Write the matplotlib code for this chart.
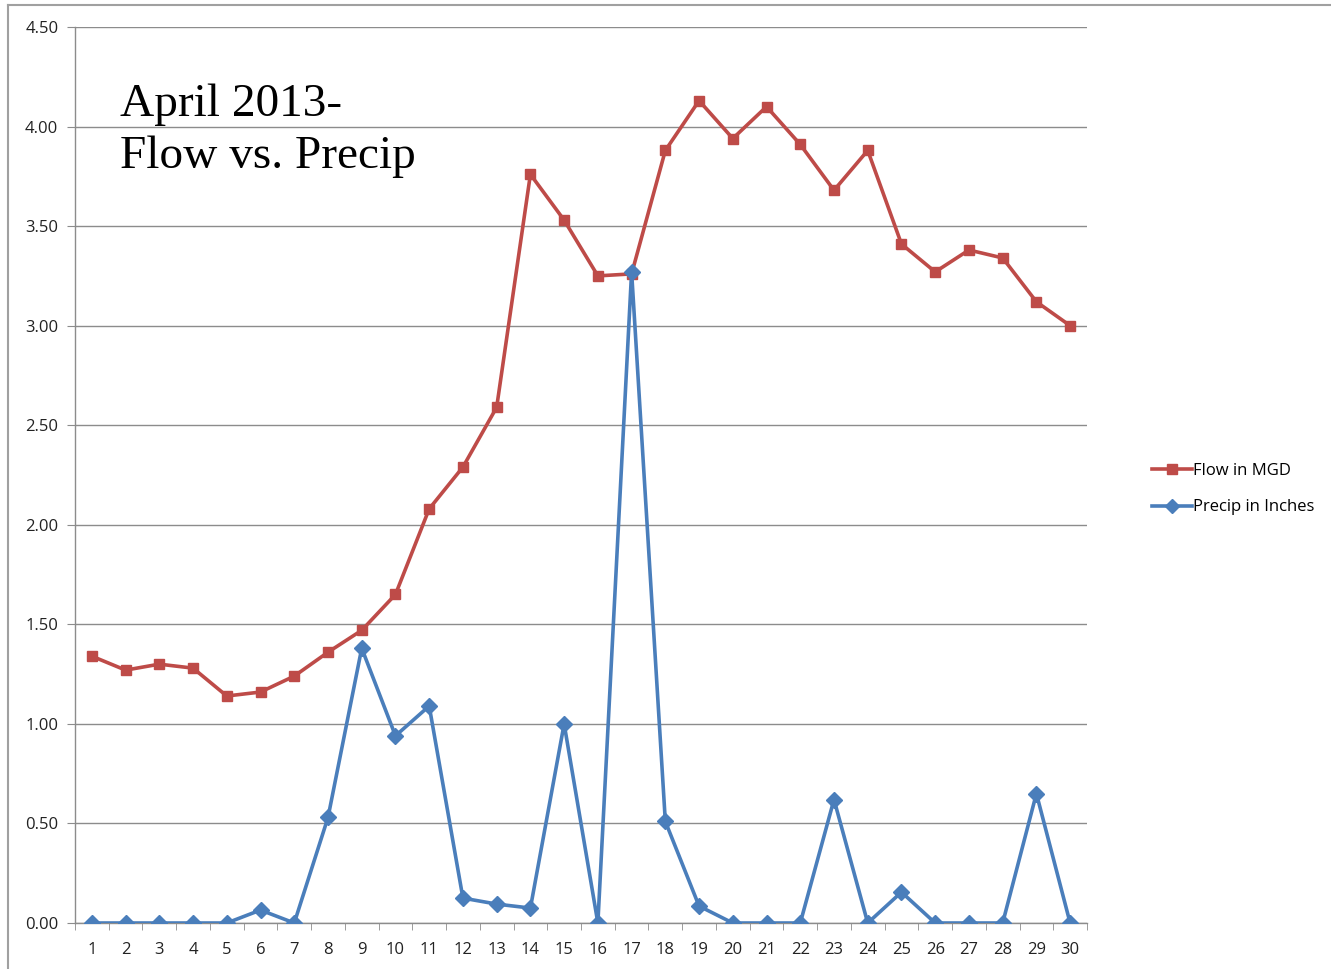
import matplotlib
matplotlib.use("Agg")
import matplotlib.pyplot as plt
from matplotlib.lines import Line2D

days = list(range(1, 31))
flow_mgd = [1.34, 1.27, 1.30, 1.28, 1.14, 1.16, 1.24, 1.36, 1.47, 1.65,
            2.08, 2.29, 2.59, 3.76, 3.53, 3.25, 3.26, 3.88, 4.13, 3.94,
            4.10, 3.91, 3.68, 3.88, 3.41, 3.27, 3.38, 3.34, 3.12, 3.00]
precip_in = [0.00, 0.00, 0.00, 0.00, 0.00, 0.065, 0.00, 0.53, 1.38, 0.94,
             1.09, 0.125, 0.095, 0.075, 1.00, 0.00, 3.27, 0.51, 0.085, 0.00,
             0.00, 0.00, 0.62, 0.00, 0.155, 0.00, 0.00, 0.00, 0.65, 0.00]
yticks = [0.0, 0.5, 1.0, 1.5, 2.0, 2.5, 3.0, 3.5, 4.0, 4.5]

RED = "#BE4B48"
BLUE = "#4A7EBB"
GRID = "#8C8C8C"

fig = plt.figure(figsize=(13.31, 9.69), dpi=100)
fig.patch.set_facecolor("white")

# outer border lines (top and left)
fig.add_artist(Line2D([8/1331, 1], [1-5/969, 1-5/969], color="#A0A0A0", lw=1.5, transform=fig.transFigure))
fig.add_artist(Line2D([8/1331, 8/1331], [0, 1-5/969], color="#A0A0A0", lw=1.5, transform=fig.transFigure))

ax = fig.add_axes([75/1331, 46/969, (1087-75)/1331, (923-27)/969])

lf, = ax.plot(days, flow_mgd, color=RED, lw=2.6, marker="s", ms=7.5, zorder=3)
lp, = ax.plot(days, precip_in, color=BLUE, lw=2.6, marker="D", ms=8, zorder=4)

ax.set_xlim(0.5, 30.5)
ax.set_ylim(0, 4.5)
ax.set_yticks(yticks)
ax.set_yticklabels([f"{v:.2f}" for v in yticks])
ax.set_xticks(days)
ax.set_xticklabels([str(d) for d in days])
ax.set_xticks([d + 0.5 for d in [0] + days], minor=True)
ax.tick_params(axis="x", which="major", length=0, pad=14)
ax.tick_params(axis="x", which="minor", length=5, color=GRID, direction="out")
ax.tick_params(axis="y", length=6, color=GRID, direction="out", pad=6)
for lab in ax.get_xticklabels() + ax.get_yticklabels():
    lab.set_fontfamily("Open Sans")
    lab.set_fontsize(12)
    lab.set_color("#222222")

ax.grid(axis="y", color=GRID, lw=1)
ax.set_axisbelow(True)
for s in ["top", "right"]:
    ax.spines[s].set_visible(False)
for s in ["left", "bottom"]:
    ax.spines[s].set_color(GRID)
    ax.spines[s].set_linewidth(1)

ax.text(0.044, 0.937, "April 2013-\nFlow vs. Precip", transform=ax.transAxes,
        fontfamily="Liberation Serif", fontsize=34, va="top", ha="left",
        linespacing=1.28, color="black")

fig.legend([lf, lp], ["Flow in MGD", "Precip in Inches"],
           loc="center left", bbox_to_anchor=(1137/1331, 1-489/969),
           frameon=False, prop={"family": "Open Sans", "size": 12},
           handlelength=2.4, handletextpad=0.05, labelspacing=1.25,
           markerscale=0.95)

fig.savefig("out.png", dpi=100)
